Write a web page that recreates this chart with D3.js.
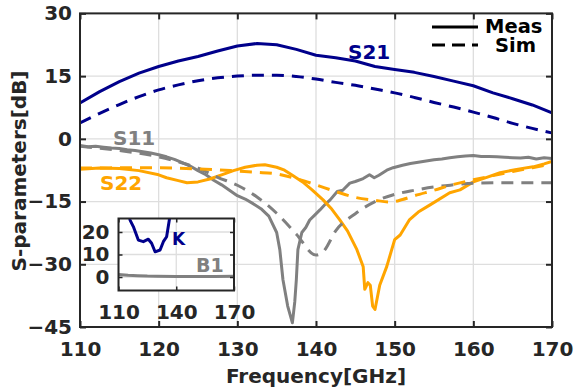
<!DOCTYPE html>
<html><head><meta charset="utf-8">
<script src="https://cdn.jsdelivr.net/npm/d3@7"></script>
<style>
body{margin:0;background:#fff}
svg{display:block}
text{font-family:"DejaVu Sans",sans-serif;font-weight:bold}
</style>
</head><body>
<svg id="c" width="576" height="392"></svg>
<script>
// ---------- DATA ----------
const freqTicks = [110, 120, 130, 140, 150, 160, 170];
const dbTicks = [-45, -30, -15, 0, 15, 30];
const insetFreqTicks = [110, 140, 170];
const insetTicks = [0, 10, 20];

const simFreq = [110,112.5,115,117.5,120,122.5,125,127.5,130,132.5,135,137.5,140,142.5,145,147.5,150,152.5,155,157.5,160,162.5,165,167.5,170];
const s21Sim = [3.8,6.1,8.2,10.1,11.7,12.9,13.9,14.6,15.0,15.2,15.2,14.9,14.3,13.5,12.8,11.9,11.0,9.9,8.7,7.6,6.4,5.1,3.7,2.5,1.4];

const s21MeasFreq = [110,112.5,115,117.5,120,122.5,125,127.5,130,132.5,135,137.5,140,142.5,145,147.5,150,152.5,155,157.5,160,162.5,165,167.5,170];
const s21Meas = [8.6,11.3,13.7,15.7,17.3,18.6,19.7,21.0,22.2,22.8,22.5,21.4,20.0,19.4,18.6,17.3,16.6,15.9,14.9,13.8,12.7,11.0,9.6,8.1,6.2];

const s11SimFreq = [110,115,120,122.5,125,127.5,130,132.5,135,137.5,140,141,142.5,145,147.5,150,152.5,155,157.5,160,165,170];
const s11Sim = [-1.8,-2.8,-4.3,-5.5,-7.0,-9.2,-11.1,-13.9,-17.8,-22.8,-27.8,-26.8,-22.0,-17.9,-15.0,-13.3,-12.3,-11.5,-11.0,-10.6,-10.5,-10.5];

const s11MeasFreq = [110,111,112,113,114,115,116,117,118,119,120,121,122,123,124,125,126,127,128,129,130,131,132,133,134,135,135.4,135.8,136.4,137,137.3,137.5,137.7,138.2,138.7,139.2,139.8,140.5,141.2,141.8,142.7,143.4,144.3,145,146,146.8,147.4,148,149,149.8,151,152,153,154,155,156,157,158,159,160,161,162,163,164,165,166,167,168,169,170];
const s11Meas = [-1.6,-1.9,-1.8,-2.0,-2.2,-2.3,-2.6,-2.8,-3.1,-3.4,-3.8,-4.3,-4.9,-5.7,-6.5,-7.6,-8.6,-9.9,-11.0,-12.3,-13.6,-14.4,-15.5,-16.7,-18.5,-22.4,-26.5,-33.7,-40.0,-44.0,-39.0,-33.7,-26.5,-22.4,-21.2,-19.4,-18.3,-17.0,-15.6,-14.6,-12.6,-12.3,-10.6,-10.2,-9.5,-8.6,-9.3,-8.7,-7.5,-6.9,-6.3,-5.9,-5.6,-5.3,-5.0,-4.8,-4.5,-4.3,-4.1,-4.0,-4.2,-4.2,-4.3,-4.4,-4.5,-4.6,-4.4,-4.8,-4.5,-4.7];

const s22SimFreq = [110,112.5,115,117.5,120,122.5,125,127.5,130,132.5,135,137.5,140,142.5,145,147.5,149.5,151,152.5,155,157.5,160,162.5,165,167.5,170];
const s22Sim = [-7.0,-7.0,-6.9,-6.9,-6.9,-7.0,-7.2,-7.4,-7.7,-8.0,-8.4,-9.5,-11.0,-12.6,-14.0,-14.7,-15.1,-14.5,-13.6,-12.3,-10.9,-9.8,-8.8,-7.8,-6.9,-6.0];

const s22MeasFreq = [110,112.5,115,117.5,120,121,122.5,123.6,125,126.5,128,129.5,131,132.5,133.5,135,136,137,138.3,139.5,140.9,142,143,144,145.2,146,146.2,146.6,146.9,147.2,147.5,148.1,149,150,150.7,151.9,153,154.5,157,158.3,160,161.7,163.4,165.5,167.6,169,170];
const s22Meas = [-7.3,-7.0,-7.1,-7.6,-8.6,-9.3,-10.0,-10.5,-10.3,-9.6,-8.6,-7.6,-6.8,-6.3,-6.2,-6.8,-7.5,-8.7,-10.3,-12.2,-14.6,-16.8,-19.3,-22.0,-26.5,-30.6,-36.0,-34.4,-35.0,-40.0,-40.8,-35.0,-30.5,-24.1,-23.0,-19.3,-17.5,-15.8,-12.9,-12.2,-10.3,-9.2,-8.1,-7.3,-6.7,-6.0,-5.4];

const kFreq = [113,116.0,117.7,120.3,122.9,125.5,127.2,129.0,131.6,133.3,135.0,136.4,137.8];
const kVals = [40,25.3,22.4,16.4,15.7,16.8,15.0,11.2,12.0,15.7,17.9,25.3,40];
const b1Freq = [110,115,120,125,130,140,150,160,170];
const b1Vals = [1.1,0.8,0.6,0.4,0.3,0.2,0.2,0.25,0.3];

// ---------- STYLE ----------
const NAVY = "#00008b", GRAY = "#808080", ORANGE = "#ffa500", INK = "#262626", GRID = "#dedede";
const DASH = "12,8";

const svg = d3.select("#c");
const L = 80, R = 552, T = 13.4, B = 327;
const x = d3.scaleLinear().domain([110,170]).range([L,R]);
const y = d3.scaleLinear().domain([-45,30]).range([B,T]);

const defs = svg.append("defs");
defs.append("clipPath").attr("id","clipMain").append("rect")
  .attr("x",L).attr("y",T).attr("width",R-L).attr("height",B-T);

// grid
const g = svg.append("g");
g.selectAll(".vg").data(freqTicks).join("line")
  .attr("x1",d=>x(d)).attr("x2",d=>x(d)).attr("y1",T).attr("y2",B)
  .attr("stroke",GRID).attr("stroke-width",1.3);
g.selectAll(".hg").data(dbTicks).join("line")
  .attr("y1",d=>y(d)).attr("y2",d=>y(d)).attr("x1",L).attr("x2",R)
  .attr("stroke",GRID).attr("stroke-width",1.3);

// lines
const plot = svg.append("g").attr("clip-path","url(#clipMain)");
function series(fr, vals, color, dashed, sx, sy, parent, w){
  const pts = fr.map((f,i)=>[f, vals[i]]);
  const ln = d3.line().x(d=>sx(d[0])).y(d=>sy(d[1]));
  if (dashed) ln.curve(d3.curveMonotoneX);
  parent.append("path").attr("d", ln(pts)).attr("fill","none")
    .attr("stroke",color).attr("stroke-width",w||3)
    .attr("stroke-linejoin","round")
    .attr("stroke-dasharray", dashed ? DASH : null);
}
series(s11MeasFreq, s11Meas, GRAY, false, x, y, plot);
series(s22MeasFreq, s22Meas, ORANGE, false, x, y, plot);
series(s21MeasFreq, s21Meas, NAVY, false, x, y, plot);
series(s11SimFreq, s11Sim, GRAY, true, x, y, plot);
series(s22SimFreq, s22Sim, ORANGE, true, x, y, plot);
series(simFreq, s21Sim, NAVY, true, x, y, plot);

// axes box
svg.append("rect").attr("x",L).attr("y",T).attr("width",R-L).attr("height",B-T)
  .attr("fill","none").attr("stroke",INK).attr("stroke-width",2);

const axB = svg.append("g").attr("transform",`translate(0,${B})`)
  .call(d3.axisBottom(x).tickValues(freqTicks).tickSize(-6).tickPadding(15).tickFormat(d3.format("d")));
const axL = svg.append("g").attr("transform",`translate(${L},0)`)
  .call(d3.axisLeft(y).tickValues(dbTicks).tickSize(-6).tickPadding(8).tickFormat(d3.format("d")));
const axT = svg.append("g").attr("transform",`translate(0,${T})`)
  .call(d3.axisTop(x).tickValues(freqTicks).tickSize(-6).tickFormat(""));
const axR = svg.append("g").attr("transform",`translate(${R},0)`)
  .call(d3.axisRight(y).tickValues(dbTicks).tickSize(-6).tickFormat(""));
[axB,axL,axT,axR].forEach(a=>{
  a.select(".domain").remove();
  a.selectAll("line").attr("stroke",INK).attr("stroke-width",2);
  a.selectAll("text").attr("fill",INK).style("font-size","20px").style("font-family","DejaVu Sans").style("font-weight","bold");
});

// axis titles
svg.append("text").attr("x",(L+R)/2).attr("y",383).attr("text-anchor","middle")
  .attr("fill",INK).style("font-size","20px").text("Frequency[GHz]");
svg.append("text").attr("transform","translate(26,171) rotate(-90)").attr("text-anchor","middle")
  .attr("fill",INK).style("font-size","20px").text("S-parameters[dB]");

// series labels
svg.append("text").attr("x",348).attr("y",59).attr("fill",NAVY).style("font-size","20px").text("S21");
svg.append("text").attr("x",113).attr("y",145).attr("fill",GRAY).style("font-size","20px").text("S11");
svg.append("text").attr("x",100).attr("y",190).attr("fill",ORANGE).style("font-size","20px").text("S22");

// legend
const lg = svg.append("g");
lg.append("line").attr("x1",432).attr("x2",478).attr("y1",27).attr("y2",27).attr("stroke","#000").attr("stroke-width",3);
lg.append("line").attr("x1",432).attr("x2",478).attr("y1",45).attr("y2",45).attr("stroke","#000").attr("stroke-width",3).attr("stroke-dasharray","13,7");
lg.append("text").attr("x",485).attr("y",33).attr("fill","#000").style("font-size","19.5px").text("Meas");
lg.append("text").attr("x",495).attr("y",52).attr("fill","#000").style("font-size","19.5px").text("Sim");

// ---------- INSET ----------
const iL = 118.5, iR = 234, iT = 218.5, iB = 290.5;
const ix = d3.scaleLinear().domain([110,170]).range([iL,iR]);
const iy = d3.scaleLinear().domain([-6,26]).range([iB,iT]);
defs.append("clipPath").attr("id","clipInset").append("rect")
  .attr("x",iL).attr("y",iT).attr("width",iR-iL).attr("height",iB-iT);
const ig = svg.append("g");
ig.append("rect").attr("x",iL).attr("y",iT).attr("width",iR-iL).attr("height",iB-iT).attr("fill","#fff");
ig.selectAll(".ivg").data(insetFreqTicks).join("line")
  .attr("x1",d=>ix(d)).attr("x2",d=>ix(d)).attr("y1",iT).attr("y2",iB)
  .attr("stroke",GRID).attr("stroke-width",1.3);
ig.selectAll(".ihg").data(insetTicks).join("line")
  .attr("y1",d=>iy(d)).attr("y2",d=>iy(d)).attr("x1",iL).attr("x2",iR)
  .attr("stroke",GRID).attr("stroke-width",1.3);
const iplot = ig.append("g").attr("clip-path","url(#clipInset)");
series(b1Freq, b1Vals, GRAY, false, ix, iy, iplot);
series(kFreq, kVals, NAVY, false, ix, iy, iplot);
ig.append("rect").attr("x",iL).attr("y",iT).attr("width",iR-iL).attr("height",iB-iT)
  .attr("fill","none").attr("stroke",INK).attr("stroke-width",2);
const iaB = ig.append("g").attr("transform",`translate(0,${iB})`)
  .call(d3.axisBottom(ix).tickValues(insetFreqTicks).tickSize(-4).tickPadding(14.5).tickFormat(d3.format("d")));
const iaL = ig.append("g").attr("transform",`translate(${iL},0)`)
  .call(d3.axisLeft(iy).tickValues(insetTicks).tickSize(-4).tickPadding(9).tickFormat(d3.format("d")));
const iaT = ig.append("g").attr("transform",`translate(0,${iT})`)
  .call(d3.axisTop(ix).tickValues(insetFreqTicks).tickSize(-4).tickFormat(""));
const iaR = ig.append("g").attr("transform",`translate(${iR},0)`)
  .call(d3.axisRight(iy).tickValues(insetTicks).tickSize(-4).tickFormat(""));
[iaB,iaL,iaT,iaR].forEach(a=>{
  a.select(".domain").remove();
  a.selectAll("line").attr("stroke",INK).attr("stroke-width",1.5);
  a.selectAll("text").attr("fill",INK).style("font-size","20px").style("font-family","DejaVu Sans").style("font-weight","bold");
});
ig.append("text").attr("x",172).attr("y",245).attr("fill",NAVY).style("font-size","17px").text("K");
ig.append("text").attr("x",196).attr("y",272).attr("fill",GRAY).style("font-size","19px").text("B1");
</script>
</body></html>
